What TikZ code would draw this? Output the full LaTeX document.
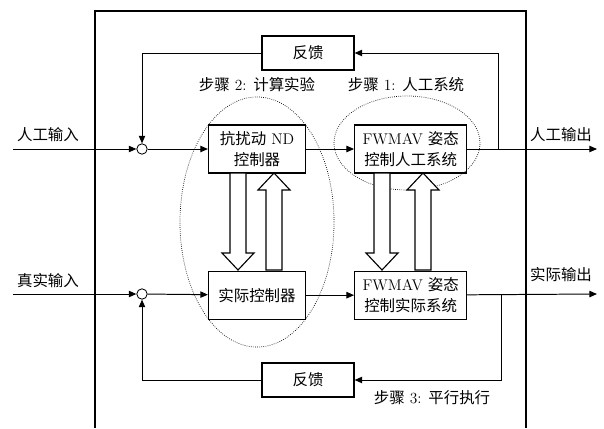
\documentclass[tikz,border=0pt]{standalone}
\usepackage{fontspec}
\newfontfamily\cjk{Noto Sans CJK SC}
\newcommand{\zh}[1]{{\cjk #1}}
\usetikzlibrary{arrows.meta,positioning}
\tikzset{
  block/.style={rectangle, draw, line width=0.8pt, text centered, align=center, minimum width=2.425cm, minimum height=1.2cm, inner sep=1pt},
  sysblock/.style={block, minimum width=2.8cm},
  fback/.style={rectangle, draw, line width=0.8pt, minimum width=2.3cm, minimum height=0.85cm},
  sum/.style={circle, draw, line width=0.6pt, minimum size=0.26cm, inner sep=0pt, fill=white},
  arrow/.style={draw, -{Triangle[length=1.9mm, width=1.6mm]}, line width=0.7pt},
  line/.style={draw, line width=0.7pt},
  bigarrow/.style={draw, line width=0.8pt, fill=white},
  zone/.style={draw, densely dotted, line width=0.5pt}
}

\begin{document}
\begin{tikzpicture}[x=0.025cm, y=-0.025cm, font=\fontsize{11}{15.5}\selectfont]
\useasboundingbox (0,0) rectangle (604,428);

% frame
\draw[line width=0.8pt] (95,428) -- (95,11) -- (526,11) -- (526,428);

% boxes
\node [block] (ndc) at (257,149) {\zh{抗扰动} ND\\\zh{控制器}};
\node [sysblock, right=1.2cm of ndc] (asys) {FWMAV \zh{姿态}\\\zh{控制人工系统}};
\node [block, below=2.425cm of ndc] (real) {\zh{实际控制器}};
\node [sysblock, right=1.2cm of real] (rsys) {FWMAV \zh{姿态}\\\zh{控制实际系统}};

\node [fback] (fbtop) at (308,53) {\zh{反馈}};
\node [fback] (fbbot) at (308,380) {\zh{反馈}};

\node [sum] (sum1) at (142,149) {};
\node [sum] (sum2) at (142,294) {};

% ends and branches
\coordinate (in1) at (13,149);
\coordinate (in2) at (13,294);
\coordinate (out1) at (597,149);
\coordinate (out2) at (597,294);
\coordinate (br1) at (498,149);
\coordinate (br2) at (501,294);

% labels
\node (lin1) at (48,135) {\zh{人工输入}};
\node (lin2) at (48,281) {\zh{真实输入}};
\node (lout1) at (561,135) {\zh{人工输出}};
\node (lout2) at (561,275) {\zh{实际输出}};
\node (step2) at (257,85) {\zh{步骤} 2: \zh{计算实验}};
\node (step1) at (406,85) {\zh{步骤} 1: \zh{人工系统}};
\node (step3) at (432,398) {\zh{步骤} 3: \zh{平行执行}};

% zones
\draw[zone] (257,222) ellipse [x radius=1.925cm, y radius=3.125cm];
\draw[zone] (407,143) ellipse [x radius=1.825cm, y radius=1.175cm];

% signal lines
\path[arrow] (in1) -- (sum1);
\path[arrow] (sum1) -- (ndc);
\path[arrow] (ndc) -- (asys);
\path[arrow] (asys) -- (out1);
\path[arrow] (br1) |- (fbtop);
\path[arrow] (fbtop) -| (sum1);

\path[arrow] (in2) -- (sum2);
\path[arrow] (sum2) -- (real);
\path[arrow] (real) -- (rsys);
\path[arrow] (rsys) -- (out2);
\path[arrow] (br2) |- (fbbot);
\path[arrow] (fbbot) -| (sum2);

% big arrows between the levels
\foreach \x in {238,382}
  \draw[bigarrow] (\x-8,173) -- (\x-8,253) -- (\x-16,253) -- (\x,270) -- (\x+16,253) -- (\x+8,253) -- (\x+8,173) -- cycle;
\foreach \x in {274,423}
  \draw[bigarrow] (\x-8,270) -- (\x-8,190) -- (\x-16,190) -- (\x,173) -- (\x+16,190) -- (\x+8,190) -- (\x+8,270) -- cycle;

\end{tikzpicture}
\end{document}
